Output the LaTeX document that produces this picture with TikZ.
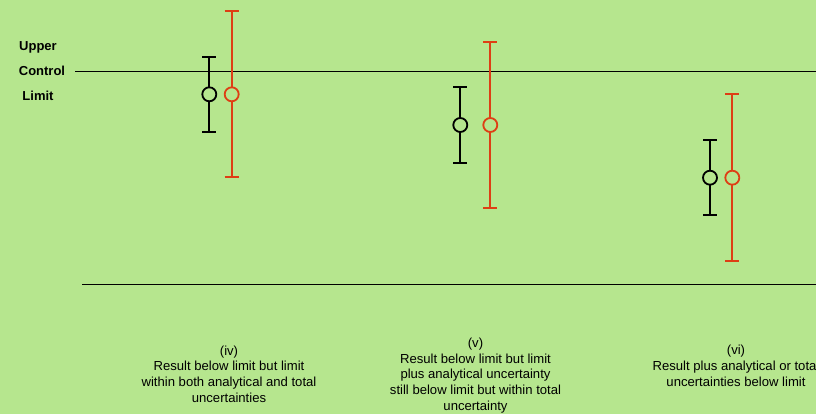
\documentclass[tikz,border=0pt]{standalone}
\usepackage{fontspec}
\setmainfont{Liberation Sans}
\definecolor{bggreen}{RGB}{182,230,142}
\definecolor{errred}{RGB}{222,62,20}
\begin{document}
\begin{tikzpicture}[x=1pt,y=-1pt,
  limitline/.style={line width=0.9pt, black},
  pt/.style={circle, draw, fill=bggreen, line width=1.8pt, minimum size=14pt, inner sep=0pt},
  whisk/.style={line width=1.8pt},
  capk/.style={line width=1.8pt},
  caption/.style={font=\fontsize{13.1}{15.6}\selectfont, align=center, anchor=base, inner sep=0pt},
  side/.style={font=\fontsize{13}{15}\selectfont\bfseries, anchor=center, inner sep=0pt}]
\useasboundingbox (0,0) rectangle (816,414);
\clip (0,0) rectangle (816,414);
\fill[bggreen] (0,0) rectangle (816,414);

% limit lines
\coordinate (ul1) at (75,71);
\coordinate (ul2) at (816,71);
\coordinate (ll1) at (82,284);
\coordinate (ll2) at (816,284);
\draw[limitline] (ul1) -- (ul2);
\draw[limitline] (ll1) -- (ll2);

\node[side] (up) at (38,47) {Upper};
\node[side] (co) at (42,71) {Control};
\node[side] (li) at (38,96) {Limit};

% error bars
\foreach \nm/\x/\y/\t/\b/\c in {a/209.3/94.3/56.7/132/black, b/231.7/94.3/11/177.3/errred,
  c/460.3/125/87/162.7/black, d/490.3/125/41.7/207.7/errred,
  e/710/177.7/140/215.3/black, f/732.3/177.7/94.3/261/errred}{
  \coordinate (\nm top) at (\x,\t);
  \coordinate (\nm bot) at (\x,\b);
  \draw[whisk,\c] (\nm top) -- (\nm bot);
  \draw[capk,\c] ([xshift=-7pt]\nm top) -- ([xshift=7pt]\nm top);
  \draw[capk,\c] ([xshift=-7pt]\nm bot) -- ([xshift=7pt]\nm bot);
  \node[pt,draw=\c] (\nm pt) at (\x,\y) {};
}

\node[caption] (cap1) at (229,402) {(iv)\\Result below limit but limit\\within both analytical and total\\uncertainties};
\node[caption] (cap2) at (475.5,410) {(v)\\Result below limit but limit\\plus analytical uncertainty\\still below limit but within total\\uncertainty};
\node[caption] (cap3) at (736,386) {(vi)\\Result plus analytical or total\\uncertainties below limit};
\end{tikzpicture}
\end{document}
